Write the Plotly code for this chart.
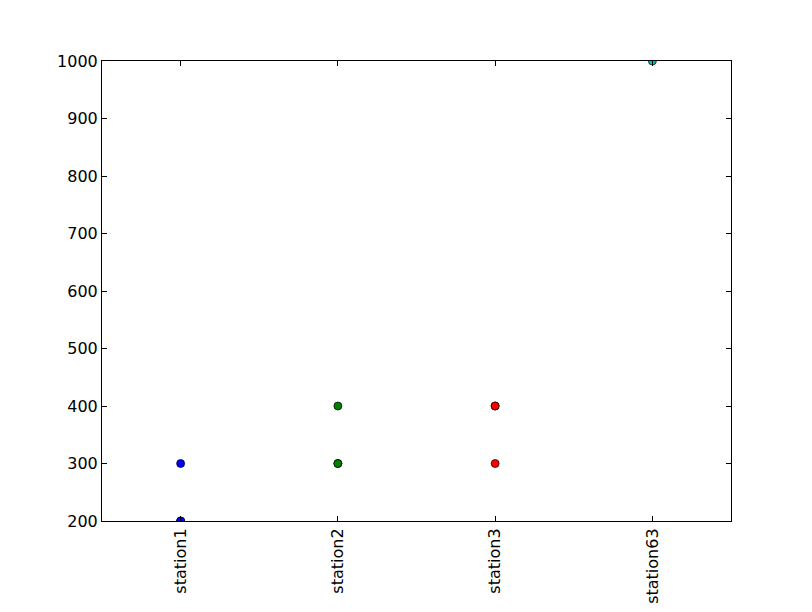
import plotly.graph_objects as go

stations = ["station1", "station2", "station3", "station63"]
station1_vals = [300, 200, 200]
station2_vals = [400, 300, 300]
station3_vals = [400, 400, 300]
station63_vals = [1000]
colors = ["#0000ff", "#008000", "#ff0000", "#00bfbf"]
y_ticks = [200, 300, 400, 500, 600, 700, 800, 900, 1000]

series = [station1_vals, station2_vals, station3_vals, station63_vals]

fig = go.Figure()
for name, vals, col in zip(stations, series, colors):
    fig.add_trace(go.Scatter(
        x=[name] * len(vals), y=vals, mode="markers",
        marker=dict(color=col, size=8, line=dict(color="black", width=0.7)),
        showlegend=False, cliponaxis=True,
    ))

fig.update_layout(
    width=812, height=612,
    margin=dict(l=94, r=89, t=53, b=99),
    paper_bgcolor="white", plot_bgcolor="white",
    font=dict(family="DejaVu Sans", size=16, color="black"),
)
fig.update_xaxes(
    type="category", categoryorder="array", categoryarray=stations,
    range=[-0.5, 3.5], showgrid=False, zeroline=False,
    showline=True, linecolor="black", linewidth=1, mirror="ticks",
    ticks="inside", ticklen=5, tickcolor="black", tickangle=-90,
)
fig.update_yaxes(
    range=[200, 1000], tickvals=y_ticks, showgrid=False, zeroline=False,
    showline=True, linecolor="black", linewidth=1, mirror="ticks",
    ticks="inside", ticklen=5, tickcolor="black",
)
fig.write_html("out.html")
